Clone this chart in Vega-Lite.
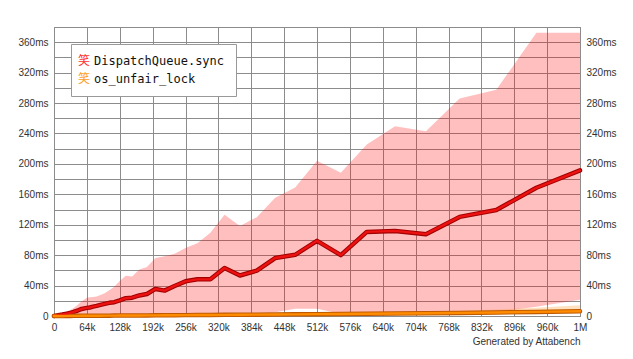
{
  "$schema": "https://vega.github.io/schema/vega-lite/v6.json",
  "width": 526,
  "height": 289,
  "autosize": {"type": "none"},
  "padding": {"left": 54, "top": 27, "right": 53, "bottom": 43},
  "config": {
    "view": {"stroke": "#8a8a8a", "strokeWidth": 1},
    "font": "Liberation Sans",
    "axis": {"labelFont": "Liberation Sans", "labelFontSize": 10, "labelColor": "#333333", "gridColor": "#8c8c8c", "gridWidth": 1, "gridOpacity": 1, "ticks": false, "domain": false, "labelOverlap": false, "tickCount": 100}
  },
  "data": {
    "values": [
      {"series": "DispatchQueue.sync", "size": 0, "med": 0, "lo": 0, "hi": 0},
      {"series": "DispatchQueue.sync", "size": 1, "med": 0.1, "lo": 0, "hi": 0.3},
      {"series": "DispatchQueue.sync", "size": 2, "med": 0.25, "lo": 0.01, "hi": 0.6},
      {"series": "DispatchQueue.sync", "size": 4, "med": 0.55, "lo": 0.02, "hi": 1.2},
      {"series": "DispatchQueue.sync", "size": 8, "med": 1.1, "lo": 0.04, "hi": 2.2},
      {"series": "DispatchQueue.sync", "size": 11.3, "med": 1.5, "lo": 0.05, "hi": 3},
      {"series": "DispatchQueue.sync", "size": 16, "med": 1.9, "lo": 0.07, "hi": 4},
      {"series": "DispatchQueue.sync", "size": 19, "med": 2.3, "lo": 0.08, "hi": 4.7},
      {"series": "DispatchQueue.sync", "size": 22.6, "med": 2.8, "lo": 0.1, "hi": 5.5},
      {"series": "DispatchQueue.sync", "size": 26.9, "med": 3.3, "lo": 0.12, "hi": 6.6},
      {"series": "DispatchQueue.sync", "size": 32, "med": 4.2, "lo": 0.14, "hi": 8},
      {"series": "DispatchQueue.sync", "size": 38.1, "med": 5.3, "lo": 0.17, "hi": 10.5},
      {"series": "DispatchQueue.sync", "size": 45.3, "med": 6.9, "lo": 0.2, "hi": 14},
      {"series": "DispatchQueue.sync", "size": 53.8, "med": 9.3, "lo": 0.24, "hi": 19.5},
      {"series": "DispatchQueue.sync", "size": 64, "med": 10.7, "lo": 0.28, "hi": 24},
      {"series": "DispatchQueue.sync", "size": 69.8, "med": 11.2, "lo": 0.3, "hi": 24.8},
      {"series": "DispatchQueue.sync", "size": 76.1, "med": 12.3, "lo": 0.33, "hi": 25},
      {"series": "DispatchQueue.sync", "size": 83, "med": 13.3, "lo": 0.36, "hi": 25.5},
      {"series": "DispatchQueue.sync", "size": 90.5, "med": 14.6, "lo": 0.4, "hi": 27.5},
      {"series": "DispatchQueue.sync", "size": 98.7, "med": 16, "lo": 0.43, "hi": 30},
      {"series": "DispatchQueue.sync", "size": 107.6, "med": 17.3, "lo": 0.47, "hi": 34},
      {"series": "DispatchQueue.sync", "size": 117.4, "med": 18.2, "lo": 0.52, "hi": 38.5},
      {"series": "DispatchQueue.sync", "size": 128, "med": 20.5, "lo": 0.57, "hi": 46},
      {"series": "DispatchQueue.sync", "size": 139.6, "med": 23.4, "lo": 0.62, "hi": 53},
      {"series": "DispatchQueue.sync", "size": 152.2, "med": 24.1, "lo": 0.68, "hi": 52},
      {"series": "DispatchQueue.sync", "size": 166, "med": 27, "lo": 0.74, "hi": 61},
      {"series": "DispatchQueue.sync", "size": 181, "med": 29, "lo": 0.8, "hi": 64.5},
      {"series": "DispatchQueue.sync", "size": 197.4, "med": 35.6, "lo": 0.88, "hi": 76.2},
      {"series": "DispatchQueue.sync", "size": 215.3, "med": 33.4, "lo": 0.96, "hi": 78.5},
      {"series": "DispatchQueue.sync", "size": 234.8, "med": 39.5, "lo": 1.05, "hi": 82},
      {"series": "DispatchQueue.sync", "size": 256, "med": 45.6, "lo": 1.15, "hi": 89.5},
      {"series": "DispatchQueue.sync", "size": 279.1, "med": 48.2, "lo": 1.25, "hi": 95.5},
      {"series": "DispatchQueue.sync", "size": 304.4, "med": 48.3, "lo": 1.37, "hi": 109.5},
      {"series": "DispatchQueue.sync", "size": 332, "med": 63.1, "lo": 1.5, "hi": 133},
      {"series": "DispatchQueue.sync", "size": 362, "med": 53.3, "lo": 1.65, "hi": 118.5},
      {"series": "DispatchQueue.sync", "size": 394.8, "med": 59.6, "lo": 1.8, "hi": 130},
      {"series": "DispatchQueue.sync", "size": 430.5, "med": 76.2, "lo": 5, "hi": 155.5},
      {"series": "DispatchQueue.sync", "size": 469.5, "med": 80.5, "lo": 9.5, "hi": 169},
      {"series": "DispatchQueue.sync", "size": 512, "med": 98.8, "lo": 9.5, "hi": 204},
      {"series": "DispatchQueue.sync", "size": 558.3, "med": 80.1, "lo": 3, "hi": 188.3},
      {"series": "DispatchQueue.sync", "size": 608.9, "med": 110.6, "lo": 3, "hi": 225.4},
      {"series": "DispatchQueue.sync", "size": 664, "med": 111.9, "lo": 3.3, "hi": 249.4},
      {"series": "DispatchQueue.sync", "size": 724.1, "med": 107.6, "lo": 3.7, "hi": 243},
      {"series": "DispatchQueue.sync", "size": 789.6, "med": 130.3, "lo": 4.1, "hi": 286},
      {"series": "DispatchQueue.sync", "size": 861.1, "med": 139.4, "lo": 5.5, "hi": 297.4},
      {"series": "DispatchQueue.sync", "size": 939.1, "med": 168.6, "lo": 12, "hi": 372.4},
      {"series": "DispatchQueue.sync", "size": 1024, "med": 191.4, "lo": 21.5, "hi": 372.4},
      {"series": "os_unfair_lock", "size": 0, "med": 0, "lo": 0, "hi": 0},
      {"series": "os_unfair_lock", "size": 1, "med": 0.005, "lo": 0.004, "hi": 0.01},
      {"series": "os_unfair_lock", "size": 2, "med": 0.01, "lo": 0.008, "hi": 0.02},
      {"series": "os_unfair_lock", "size": 4, "med": 0.02, "lo": 0.017, "hi": 0.04},
      {"series": "os_unfair_lock", "size": 8, "med": 0.04, "lo": 0.034, "hi": 0.07},
      {"series": "os_unfair_lock", "size": 11.3, "med": 0.05, "lo": 0.04, "hi": 0.09},
      {"series": "os_unfair_lock", "size": 16, "med": 0.07, "lo": 0.06, "hi": 0.12},
      {"series": "os_unfair_lock", "size": 19, "med": 0.08, "lo": 0.07, "hi": 0.14},
      {"series": "os_unfair_lock", "size": 22.6, "med": 0.1, "lo": 0.085, "hi": 0.17},
      {"series": "os_unfair_lock", "size": 26.9, "med": 0.12, "lo": 0.1, "hi": 0.2},
      {"series": "os_unfair_lock", "size": 32, "med": 0.14, "lo": 0.12, "hi": 0.24},
      {"series": "os_unfair_lock", "size": 38.1, "med": 0.17, "lo": 0.14, "hi": 0.29},
      {"series": "os_unfair_lock", "size": 45.3, "med": 0.2, "lo": 0.17, "hi": 0.34},
      {"series": "os_unfair_lock", "size": 53.8, "med": 0.24, "lo": 0.2, "hi": 0.4},
      {"series": "os_unfair_lock", "size": 64, "med": 0.28, "lo": 0.24, "hi": 0.47},
      {"series": "os_unfair_lock", "size": 69.8, "med": 0.3, "lo": 0.26, "hi": 0.5},
      {"series": "os_unfair_lock", "size": 76.1, "med": 0.33, "lo": 0.28, "hi": 0.55},
      {"series": "os_unfair_lock", "size": 83, "med": 0.36, "lo": 0.3, "hi": 0.6},
      {"series": "os_unfair_lock", "size": 90.5, "med": 0.4, "lo": 0.34, "hi": 0.66},
      {"series": "os_unfair_lock", "size": 98.7, "med": 0.43, "lo": 0.37, "hi": 0.72},
      {"series": "os_unfair_lock", "size": 107.6, "med": 0.47, "lo": 0.4, "hi": 0.78},
      {"series": "os_unfair_lock", "size": 117.4, "med": 0.52, "lo": 0.44, "hi": 0.86},
      {"series": "os_unfair_lock", "size": 128, "med": 0.57, "lo": 0.48, "hi": 0.95},
      {"series": "os_unfair_lock", "size": 139.6, "med": 0.62, "lo": 0.53, "hi": 1.03},
      {"series": "os_unfair_lock", "size": 152.2, "med": 0.68, "lo": 0.58, "hi": 1.12},
      {"series": "os_unfair_lock", "size": 166, "med": 0.74, "lo": 0.63, "hi": 1.22},
      {"series": "os_unfair_lock", "size": 181, "med": 0.8, "lo": 0.68, "hi": 1.32},
      {"series": "os_unfair_lock", "size": 197.4, "med": 0.88, "lo": 0.75, "hi": 1.45},
      {"series": "os_unfair_lock", "size": 215.3, "med": 0.96, "lo": 0.82, "hi": 1.58},
      {"series": "os_unfair_lock", "size": 234.8, "med": 1.05, "lo": 0.9, "hi": 1.72},
      {"series": "os_unfair_lock", "size": 256, "med": 1.15, "lo": 0.98, "hi": 1.88},
      {"series": "os_unfair_lock", "size": 279.1, "med": 1.25, "lo": 1.06, "hi": 2.05},
      {"series": "os_unfair_lock", "size": 304.4, "med": 1.37, "lo": 1.16, "hi": 2.25},
      {"series": "os_unfair_lock", "size": 332, "med": 1.5, "lo": 1.28, "hi": 2.45},
      {"series": "os_unfair_lock", "size": 362, "med": 1.65, "lo": 1.4, "hi": 2.7},
      {"series": "os_unfair_lock", "size": 394.8, "med": 1.8, "lo": 1.53, "hi": 2.95},
      {"series": "os_unfair_lock", "size": 430.5, "med": 1.97, "lo": 1.67, "hi": 3.2},
      {"series": "os_unfair_lock", "size": 469.5, "med": 2.15, "lo": 1.83, "hi": 3.5},
      {"series": "os_unfair_lock", "size": 512, "med": 2.4, "lo": 2.04, "hi": 3.9},
      {"series": "os_unfair_lock", "size": 558.3, "med": 2.65, "lo": 2.25, "hi": 4.3},
      {"series": "os_unfair_lock", "size": 608.9, "med": 2.95, "lo": 2.5, "hi": 4.8},
      {"series": "os_unfair_lock", "size": 664, "med": 3.3, "lo": 2.8, "hi": 5.3},
      {"series": "os_unfair_lock", "size": 724.1, "med": 3.7, "lo": 3.15, "hi": 5.9},
      {"series": "os_unfair_lock", "size": 789.6, "med": 4.1, "lo": 3.5, "hi": 6.8},
      {"series": "os_unfair_lock", "size": 861.1, "med": 4.7, "lo": 4, "hi": 8.5},
      {"series": "os_unfair_lock", "size": 939.1, "med": 5.4, "lo": 4.6, "hi": 11},
      {"series": "os_unfair_lock", "size": 1024, "med": 6.2, "lo": 5.3, "hi": 14}
    ]
  },
  "layer": [
    {
      "mark": {"type": "area", "fillOpacity": 0.25, "strokeWidth": 0},
      "encoding": {
        "x": {"field": "size", "type": "quantitative", "scale": {"domain": [0, 1024], "nice": false, "zero": true},
          "axis": {"values": [0, 64, 128, 192, 256, 320, 384, 448, 512, 576, 640, 704, 768, 832, 896, 960, 1024],
            "labelExpr": "datum.value == 0 ? '0' : datum.value == 1024 ? '1M' : datum.value + 'k'",
            "grid": true, "labelPadding": 6, "labelFlush": false, "labelOverlap": false, "tickCount": 100,
            "title": "Generated by Attabench", "titleAnchor": "end", "titleFontWeight": "normal", "titleFontSize": 10, "titleColor": "#333333", "titleFont": "Liberation Sans", "titlePadding": 4}},
        "y": {"field": "lo", "type": "quantitative", "scale": {"domain": [0, 380], "nice": false, "zero": true},
          "axis": {"orient": "left", "values": [0, 20, 40, 60, 80, 100, 120, 140, 160, 180, 200, 220, 240, 260, 280, 300, 320, 340, 360, 380],
            "labelExpr": "datum.value % 40 != 0 ? '' : datum.value == 0 ? '0' : datum.value + 'ms'",
            "grid": true, "labelPadding": 6, "labelOverlap": false, "tickCount": 100, "title": null}},
        "y2": {"field": "hi"},
        "fill": {"field": "series", "type": "nominal",
          "scale": {"domain": ["DispatchQueue.sync", "os_unfair_lock"], "range": ["#ff0000", "#ff8800"]},
          "legend": {"orient": "none", "legendX": 12, "legendY": 28, "title": null,
            "labelExpr": "'笑'", "labelFont": "Noto Sans CJK SC", "labelFontSize": 12,
            "labelColor": {"expr": "datum.value == 'DispatchQueue.sync' ? '#ff3030' : '#ff9d1f'"},
            "symbolOpacity": 0, "symbolSize": 1, "symbolStrokeWidth": 0, "labelOffset": 0, "padding": 0, "rowPadding": 6, "zindex": 3}}
      }
    },
    {
      "mark": {"type": "line", "strokeWidth": 4.5, "strokeJoin": "round", "strokeCap": "round"},
      "encoding": {
        "x": {"field": "size", "type": "quantitative"},
        "y": {"field": "med", "type": "quantitative", "axis": null},
        "stroke": {"field": "series", "type": "nominal",
          "scale": {"domain": ["DispatchQueue.sync", "os_unfair_lock"], "range": ["#a00000", "#c05a00"]},
          "legend": null}
      }
    },
    {
      "mark": {"type": "line", "strokeWidth": 2.4, "strokeJoin": "round", "strokeCap": "round"},
      "encoding": {
        "x": {"field": "size", "type": "quantitative"},
        "y": {"field": "med", "type": "quantitative",
          "axis": {"orient": "right", "values": [0, 40, 80, 120, 160, 200, 240, 280, 320, 360],
            "labelExpr": "datum.value == 0 ? '0' : datum.value + 'ms'",
            "grid": false, "labelPadding": 6, "labelOverlap": false, "tickCount": 100, "title": null}},
        "color": {"field": "series", "type": "nominal",
          "scale": {"range": ["#ee1111", "#ff8c00"]},
          "legend": {"orient": "none", "legendX": 17, "legendY": 17, "title": null,
            "labelFont": "DejaVu Sans Mono", "labelFontSize": 12, "labelColor": "#111111", "labelLimit": 400,
            "symbolOpacity": 0, "symbolSize": 25, "symbolStrokeWidth": 0, "symbolType": "circle", "labelOffset": 0,
            "padding": 11, "rowPadding": 6, "strokeColor": "#999999", "fillColor": "#ffffff", "cornerRadius": 0, "zindex": 2}}
      }
    }
  ],
  "resolve": {"axis": {"y": "independent"}}
}
